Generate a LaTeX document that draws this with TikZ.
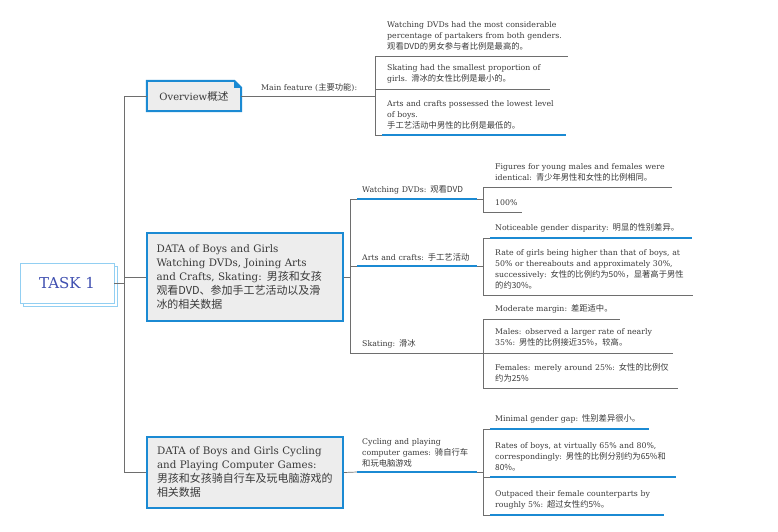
\documentclass[tikz,border=0pt]{standalone}
\usepackage{fontspec}
\setmainfont{DejaVu Serif}
\newfontfamily\cjk[Scale=1.065]{Noto Sans CJK SC}
\newcommand{\zh}[1]{{\cjk #1}}
\usepackage{tikz}
\usetikzlibrary{positioning, calc, shadows, backgrounds}

\definecolor{mapblue}{HTML}{1B8AD3}
\definecolor{linegray}{HTML}{6E6E6E}
\definecolor{boxgray}{HTML}{EDEDED}
\definecolor{taskblue}{HTML}{3F4FB0}
\definecolor{paleblue}{HTML}{92CFF2}
\definecolor{textgray}{HTML}{3A3A3A}

\begin{document}
\begin{tikzpicture}[
    x=1pt, y=-1pt,
    font=\fontsize{7.8}{11}\selectfont,
    task/.style={rectangle, draw=paleblue, fill=white, line width=0.8pt, minimum width=94pt, minimum height=40pt, text=taskblue, font=\fontsize{15}{18}\selectfont, copy shadow={shadow xshift=3pt, shadow yshift=-3pt, draw=paleblue, fill=white, line width=0.8pt}},
    topic/.style={rectangle, draw=mapblue, line width=2pt, fill=boxgray, text=textgray, align=left, inner xsep=10pt, text width=176pt, font=\fontsize{10.3}{14}\selectfont},
    note/.style={rectangle, fill=none, text=textgray, minimum width=94pt, minimum height=30pt, font=\fontsize{10}{12}\selectfont},
    branch/.style={anchor=south west, inner xsep=5pt, inner ysep=4.5pt, text width=110pt, align=left, text=textgray},
    leaf/.style={anchor=south west, inner xsep=5pt, inner ysep=6pt, text width=#1, align=left, text=textgray},
    link/.style={draw=linegray, line width=0.7pt},
    bar/.style={draw=mapblue, line width=1.8pt}
]
\useasboundingbox (0,0) rectangle (778,531);

% root and main topics
\node[task] (task) at (67,283) {TASK 1};
\node[note] (ov) at (194,96) {Overview\zh{概述}};
\node[topic, minimum height=88pt] (data1) at (244.5,277) {DATA of Boys and Girls\\Watching DVDs, Joining Arts\\and Crafts, Skating: \zh{男孩和女孩}\\\zh{观看DVD、参加手工艺活动以及滑}\\\zh{冰的相关数据}};
\node[topic, minimum height=71pt] (data2) at (245,472.5) {DATA of Boys and Girls Cycling\\and Playing Computer Games:\\\zh{男孩和女孩骑自行车及玩电脑游戏的}\\\zh{相关数据}};

\begin{scope}[on background layer]
\draw[mapblue, line width=2pt, fill=boxgray] (ov.south west) -- (ov.north west) -- ($(ov.north east)+(-7,0)$) -- ($(ov.north east)+(0,7)$) -- (ov.south east) -- cycle;
\end{scope}
\fill[mapblue] ($(ov.north east)+(-7,0)$) -- ($(ov.north east)+(-7,7)$) -- ($(ov.north east)+(0,7)$) -- cycle;

% overview
\node[branch, text width=102pt] (mf) at (256,96) {Main feature (\zh{主要功能}):};
\node[leaf=176pt] (o1) at (382,56) {Watching DVDs had the most considerable\\percentage of partakers from both genders.\\\zh{观看DVD的男女参与者比例是最高的。}};
\node[leaf=158pt] (o2) at (382,89) {Skating had the smallest proportion of\\girls. \zh{滑冰的女性比例是最小的。}};
\node[leaf=174pt] (o3) at (382,135) {Arts and crafts possessed the lowest level\\of boys.\\\zh{手工艺活动中男性的比例是最低的。}};

% dvd, arts, skating
\node[branch] (bw) at (357,199) {Watching DVDs: \zh{观看DVD}};
\node[branch] (ba) at (357,266) {Arts and crafts: \zh{手工艺活动}};
\node[branch] (bs) at (357,353) {Skating: \zh{滑冰}};
\node[leaf=172pt] (d1) at (490,187) {Figures for young males and females were\\identical: \zh{青少年男性和女性的比例相同。}};
\node[leaf=22pt] (d2) at (490,212) {100\%};
\node[leaf=192pt] (a1) at (490,238) {Noticeable gender disparity: \zh{明显的性别差异。}};
\node[leaf=193pt] (a2) at (490,295) {Rate of girls being higher than that of boys, at\\50\% or thereabouts and approximately 30\%,\\successively: \zh{女性的比例约为50\%，显著高于男性}\\\zh{的约30\%。}};
\node[leaf=120pt] (s1) at (490,319) {Moderate margin: \zh{差距适中。}};
\node[leaf=173pt] (s2) at (490,353) {Males: observed a larger rate of nearly\\35\%: \zh{男性的比例接近35\%，较高。}};
\node[leaf=178pt] (s3) at (490,388) {Females: merely around 25\%: \zh{女性的比例仅}\\\zh{约为25\%}};

% cycling
\node[branch] (bc) at (357,472) {Cycling and playing\\computer games: \zh{骑自行车}\\\zh{和玩电脑游戏}};
\node[leaf=149pt] (c1) at (490,429) {Minimal gender gap: \zh{性别差异很小。}};
\node[leaf=176pt] (c2) at (490,477) {Rates of boys, at virtually 65\% and 80\%,\\correspondingly: \zh{男性的比例分别约为65\%和}\\\zh{80\%。}};
\node[leaf=164pt] (c3) at (490,515) {Outpaced their female counterparts by\\roughly 5\%: \zh{超过女性约5\%。}};

% connectors
\draw[link] (task.east) -- ++(10,0) coordinate (hub) |- (ov.west);
\draw[link] (hub) |- (data1.west);
\draw[link] (hub) |- (data2.west);

\draw[link] (ov.east) -- (mf.south west);
\draw[link] (mf.south east) -- ++(7,0) coordinate (ovj);
\draw[link] (ovj) |- (o1.south west);
\draw[link] (ovj) |- (o2.south west);
\draw[link] (ovj) |- (o3.south west);

\draw[link] (data1.east) -- ++(7,0) coordinate (dj);
\draw[link] (dj) |- (bw.south west);
\draw[link] (dj) |- (ba.south west);
\draw[link] (dj) |- (bs.south west);
\draw[link] (bw.south east) -- ++(6,0) coordinate (bwj);
\draw[link] (bwj) |- (d1.south west);
\draw[link] (bwj) |- (d2.south west);
\draw[link] (ba.south east) -- ++(6,0) coordinate (baj);
\draw[link] (baj) |- (a1.south west);
\draw[link] (baj) |- (a2.south west);
\draw[link] (bs.south east) -- ++(6,0) coordinate (bsj);
\draw[link] (bsj) |- (s1.south west);
\draw[link] (bsj) |- (s2.south west);
\draw[link] (bsj) |- (s3.south west);

\draw[link] (data2.east) -- (bc.south west);
\draw[link] (bc.south east) -- ++(6,0) coordinate (bcj);
\draw[link] (bcj) |- (c1.south west);
\draw[link] (bcj) |- (c2.south west);
\draw[link] (bcj) |- (c3.south west);

% underlines
\draw[link] (mf.south west) -- (mf.south east);
\draw[link] (o1.south west) -- (o1.south east);
\draw[link] (o2.south west) -- (o2.south east);
\draw[bar] (o3.south west) -- (o3.south east);
\draw[bar] (bw.south west) -- (bw.south east);
\draw[bar] (ba.south west) -- (ba.south east);
\draw[link] (bs.south west) -- (bs.south east);
\draw[bar] (bc.south west) -- (bc.south east);
\draw[link] (d1.south west) -- (d1.south east);
\draw[link] (d2.south west) -- (d2.south east);
\draw[bar] (a1.south west) -- (a1.south east);
\draw[link] (a2.south west) -- (a2.south east);
\draw[link] (s1.south west) -- (s1.south east);
\draw[link] (s2.south west) -- (s2.south east);
\draw[link] (s3.south west) -- (s3.south east);
\draw[bar] (c1.south west) -- (c1.south east);
\draw[bar] (c2.south west) -- (c2.south east);
\draw[bar] (c3.south west) -- (c3.south east);

\end{tikzpicture}
\end{document}
